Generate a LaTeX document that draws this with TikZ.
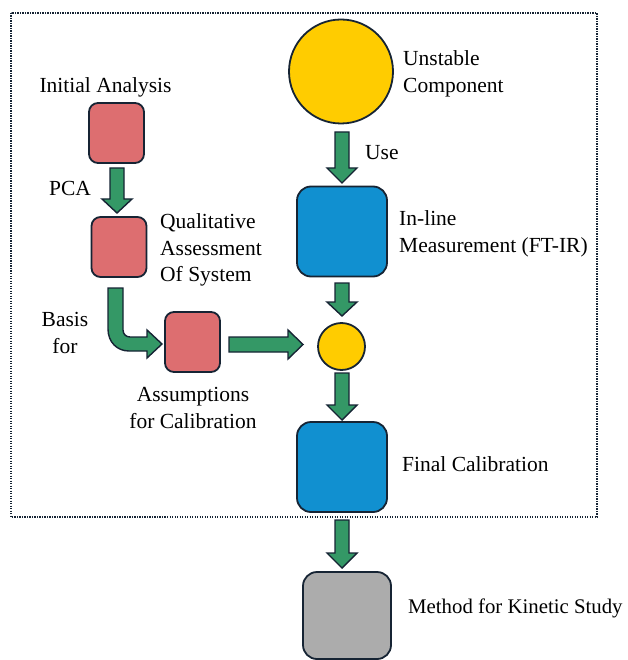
\documentclass[tikz,border=0pt]{standalone}
\usepackage{fontspec}
\setmainfont{Liberation Serif}
\definecolor{boxred}{RGB}{221,110,112}
\definecolor{arrgreen}{RGB}{52,152,102}
\definecolor{cyellow}{RGB}{255,204,0}
\definecolor{cblue}{RGB}{17,144,208}
\definecolor{cgray}{RGB}{172,172,172}
\definecolor{edge}{RGB}{22,36,52}
\newcommand\varrow[4]{%
  \draw[barrow] ({#1-7},#2) -- ({#1+7},#2) -- ({#1+7},#3) -- ({#1+15},#3) -- (#1,#4)
    -- ({#1-15},#3) -- ({#1-7},#3) -- cycle;}
\begin{document}
\begin{tikzpicture}[x=1pt,y=-1pt,
  every node/.style={font=\fontsize{21.5}{26.5}\selectfont, inner sep=0pt},
  box/.style={draw=edge, line width=1.8pt, rounded corners=9pt},
  redbox/.style={box, fill=boxred, minimum width=55, minimum height=60},
  bluebox/.style={box, fill=cblue, rounded corners=14pt, minimum width=90, minimum height=90},
  graybox/.style={box, fill=cgray, rounded corners=14pt, minimum width=88, minimum height=87},
  ycircle/.style={circle, draw=edge, line width=1.8pt, fill=cyellow},
  barrow/.style={draw=edge, line width=1.4pt, fill=arrgreen, line join=miter},
  lbl/.style={align=left, anchor=west},
  clbl/.style={align=center}]
\useasboundingbox (0,0) rectangle (627,660);
\draw[edge, line width=1.2pt, dash pattern=on 1.2pt off 1.3pt] (11,13) rectangle (597,517);

% left column
\node[redbox] (ia) at (116.5,133) {};
\node[clbl] (iat) at (105.5,87) {Initial Analysis};
\node[redbox] (qa) at (119,247) {};
\node[lbl] (qat) at (160,250) {Qualitative\\Assessment\\Of System};
\node[redbox] (as) at (192.5,342) {};
\node[clbl] (ast) at (193,408) {Assumptions\\for Calibration};
\node[clbl] (pca) at (70,188) {PCA};
\node[clbl] (basis) at (65,333) {Basis\\for};

% right column
\node[ycircle, minimum size=104] (uc) at (341,71.5) {};
\node[lbl] (uct) at (403,74) {Unstable\\Component};
\node[bluebox] (im) at (342,231.5) {};
\node[lbl] (imt) at (399,234) {In-line\\Measurement (FT-IR)};
\node[ycircle, minimum size=47] (sc) at (341.5,346.5) {};
\node[bluebox] (fc) at (342,467) {};
\node[lbl] (fct) at (402,464) {Final Calibration};
\node[graybox] (mk) at (347,615.5) {};
\node[lbl, font=\fontsize{20.8}{26}\selectfont] (mkt) at (408,608) {Method for Kinetic Study};
\node[lbl] (use) at (365,153) {Use};

% arrows
\varrow{117}{168}{199}{213}
\varrow{342}{132}{168}{183}
\varrow{342}{283}{302}{316}
\varrow{342}{373}{405}{420}
\varrow{342}{520}{553}{568}
\draw[barrow] (229,337) -- (288,337) -- (288,330) -- (303,344.5) -- (288,359) -- (288,352) -- (229,352) -- cycle;
\draw[barrow] (108,288) -- (108,329) .. controls (108,342) and (117,351) .. (129,351)
  -- (147,351) -- (147,358) -- (162,344) -- (147,330) -- (147,337) -- (130,337)
  .. controls (126,337) and (123,334) .. (123,330) -- (123,288) -- cycle;
\end{tikzpicture}
\end{document}
